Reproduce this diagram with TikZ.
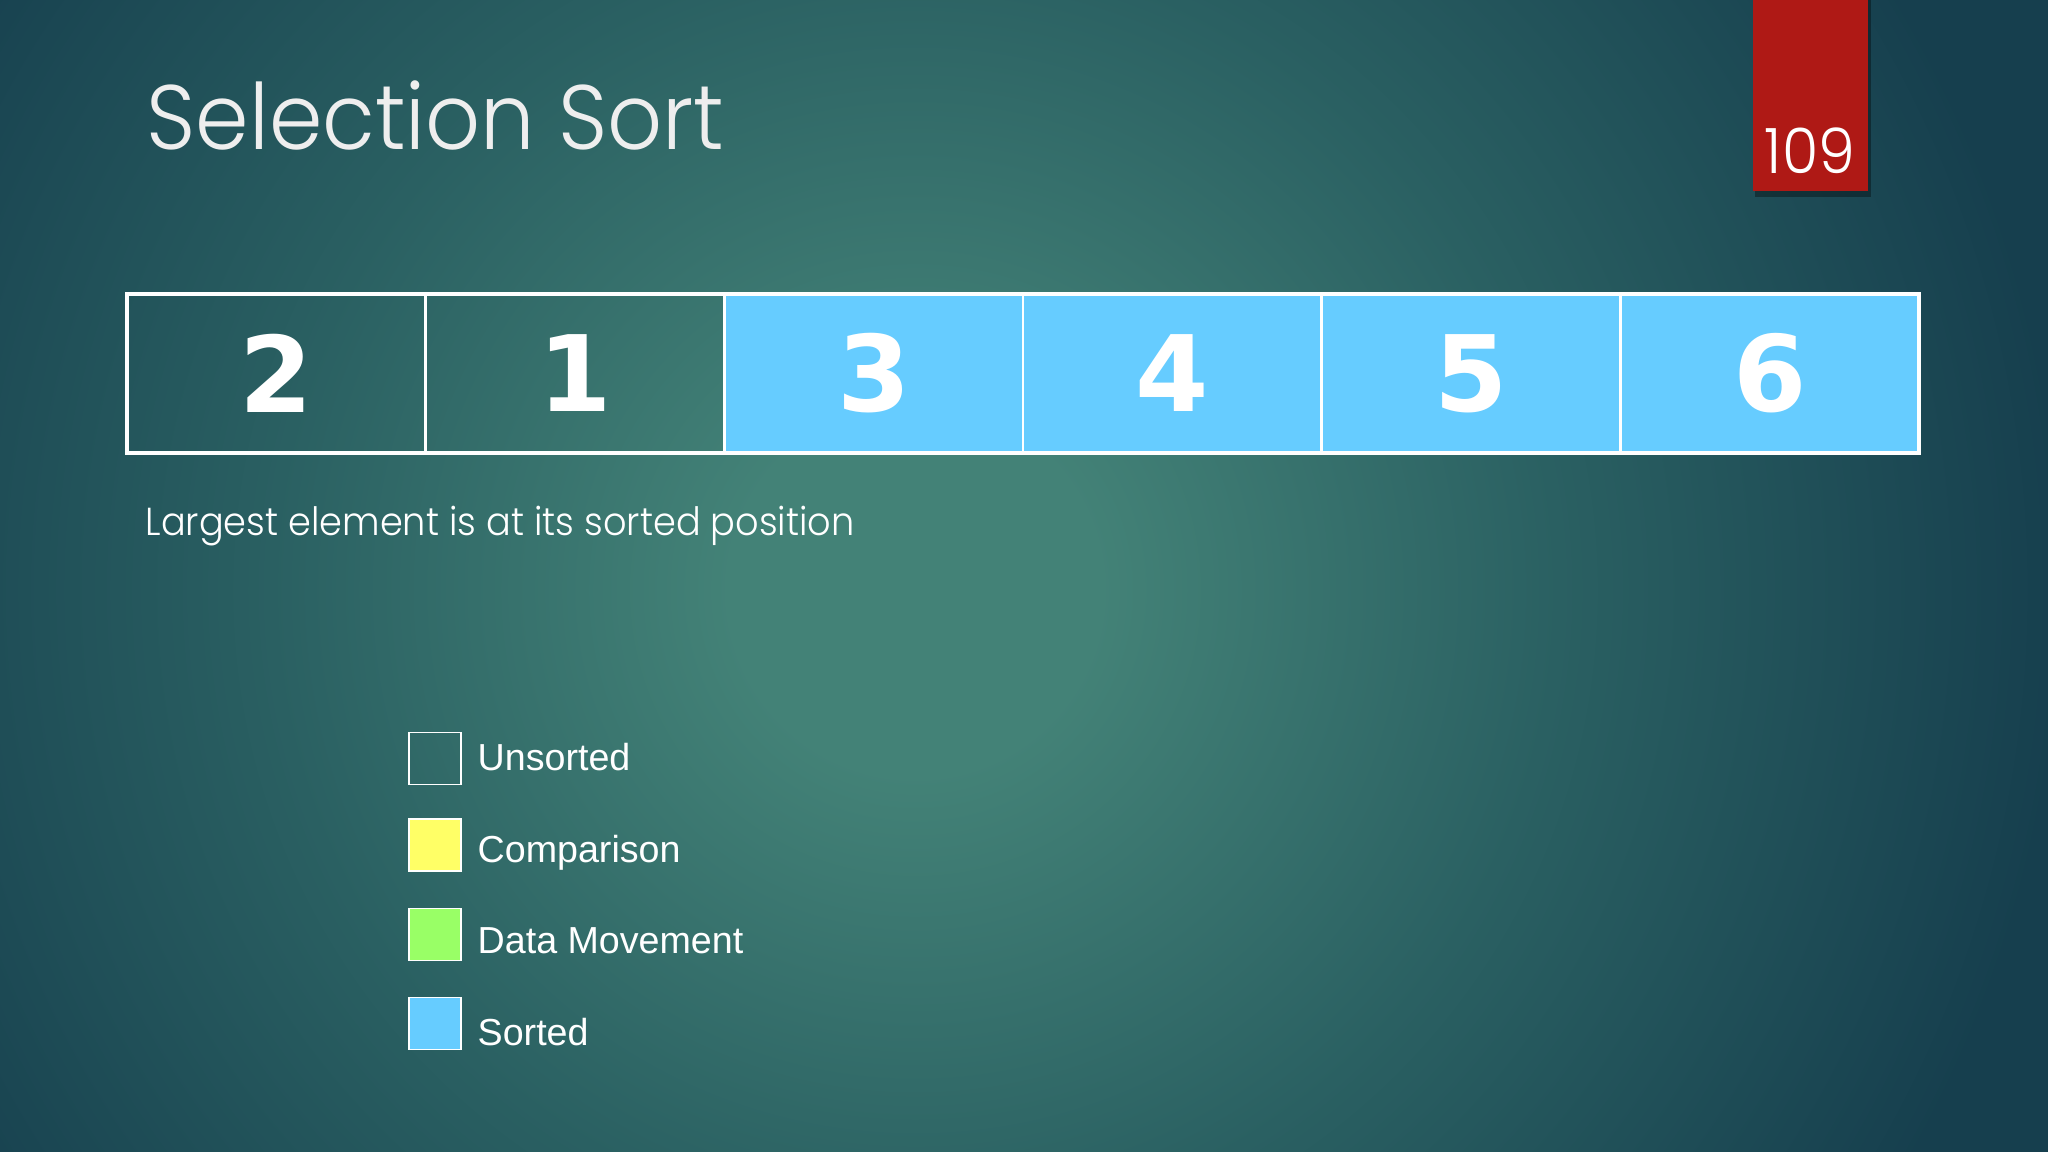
\documentclass[tikz,border=0pt]{standalone}
\usepackage{fontspec}
\newfontfamily\cellfont{DejaVu Sans}
\newfontfamily\legendfont{Liberation Sans}
\newfontfamily\gothicfont{Poppins Light}[FakeStretch=0.94]

\definecolor{bgin}{HTML}{438277}
\definecolor{bgmid}{HTML}{2A6062}
\definecolor{bgout}{HTML}{163F4E}
\definecolor{slidered}{HTML}{AF1915}
\definecolor{sortblue}{HTML}{66CCFF}
\definecolor{cmpyellow}{HTML}{FFFF66}
\definecolor{movegreen}{HTML}{99FF66}
\definecolor{titlewhite}{HTML}{EEEEEE}

\pgfdeclareradialshading{slideglow}{\pgfpointorigin}{color(0bp)=(bgin); color(4bp)=(bgin); color(14bp)=(bgmid); color(25bp)=(bgout); color(50bp)=(bgout)}

\begin{document}
\begin{tikzpicture}[x=0.01cm, y=-0.01cm,
    cell/.style={minimum width=2.987cm, minimum height=1.59cm, inner sep=0pt, outer sep=0pt, draw=white, line width=0.6pt, text=white, font=\cellfont\bfseries\fontsize{30}{30}\selectfont},
    sorted/.style={cell, fill=sortblue},
    keybox/.style={minimum size=0.52cm, inner sep=0pt, draw=white, line width=0.5pt},
    keytext/.style={anchor=base west, inner sep=0pt, text=white, font=\legendfont\fontsize{10.7}{12}\selectfont}]
        \useasboundingbox (0,0) rectangle (2048,1152);
        \fill[bgout] (0,0) rectangle (2048,1152);
        \begin{scope}
            \clip (0,0) rectangle (2048,1152);
            \shade[shading=slideglow] (915,590) circle (1150);
        \end{scope}
        % page number tab
        \fill[black, opacity=0.35] (1755,0) rectangle (1871,197);
        \fill[slidered] (1753,0) rectangle (1868,191);
        \node[anchor=base, inner sep=0pt, text=white, font=\gothicfont\fontsize{17.8}{20}\selectfont] (pagenum) at (1810,174) {109};
        \node[anchor=base west, inner sep=0pt, text=titlewhite, font=\gothicfont\fontsize{26}{30}\selectfont] (title) at (146,150) {Selection Sort};
        % the array
        \node[cell] (c1) at (276,373.5) {2};
        \node[cell] (c2) at (575,373.5) {1};
        \node[sorted] (c3) at (874,373.5) {3};
        \node[sorted] (c4) at (1172,373.5) {4};
        \node[sorted] (c5) at (1471,373.5) {5};
        \node[sorted] (c6) at (1770,373.5) {6};
        \draw[white, line width=1.15pt] (c1.north west) rectangle (c6.south east);
        \node[anchor=base west, inner sep=0pt, text=white, font=\gothicfont\fontsize{11.1}{14}\selectfont] (caption) at (145,535) {Largest element is at its sorted position};
        % legend
        \node[keybox] (kunsorted) at (435,758.5) {};
        \node[keybox, fill=cmpyellow] (kcompare) at (435,845) {};
        \node[keybox, fill=movegreen] (kmove) at (435,934.5) {};
        \node[keybox, fill=sortblue] (ksorted) at (435,1023.5) {};
        \node[keytext] (tunsorted) at (477,770) {Unsorted};
        \node[keytext] (tcompare) at (477,862) {Comparison};
        \node[keytext] (tmove) at (477,953) {Data Movement};
        \node[keytext] (tsorted) at (477,1045) {Sorted};
\end{tikzpicture}
\end{document}
